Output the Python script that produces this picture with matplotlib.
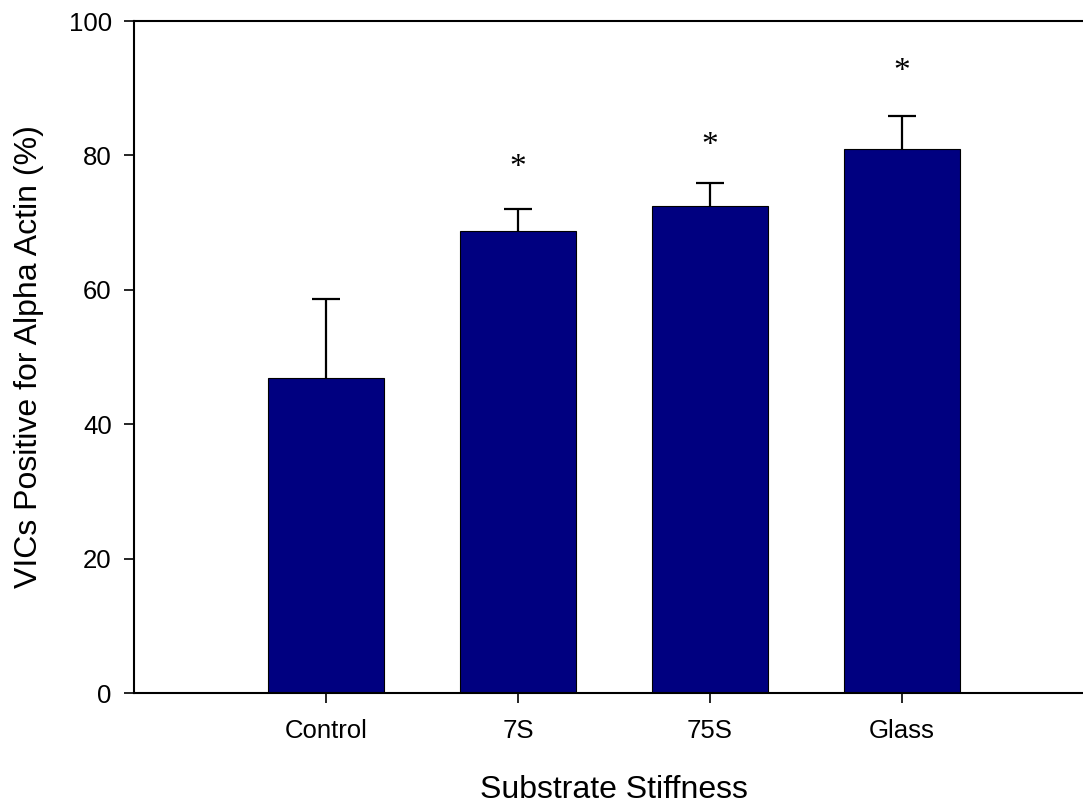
import matplotlib.pyplot as plt
import numpy as np

plt.rcParams['font.family'] = ['Liberation Sans', 'DejaVu Sans']

categories = ['Control', '7S', '75S', 'Glass']
means = [46.9, 68.7, 72.5, 81.0]
errors = [11.8, 3.3, 3.4, 4.9]
star_y = [None, 78.1, 81.5, 92.4]

fig = plt.figure(figsize=(10.83, 8.05), dpi=100)
ax = fig.add_axes([134 / 1083, 112 / 805, 960 / 1083, 672 / 805])

x = np.arange(len(categories))
ax.bar(x, means, width=0.6, color='#000080', edgecolor='black', linewidth=0.8, zorder=2)
eb = ax.errorbar(x, means, yerr=[np.zeros(len(errors)), errors], fmt='none',
                 ecolor='black', elinewidth=1.6, capsize=10, capthick=1.6, zorder=1)
# hide the lower cap (sits on the bar top)
eb[1][0].set_visible(False)

for xi, sy in zip(x, star_y):
    if sy is not None:
        ax.text(xi, sy, '*', ha='center', va='center', fontsize=24,
                family=['Liberation Serif', 'DejaVu Serif'])

ax.set_xlim(-1, 4)
ax.set_ylim(0, 100)
ax.set_xticks(x)
ax.set_xticklabels(categories)
ax.set_yticks([0, 20, 40, 60, 80, 100])
ax.tick_params(axis='both', direction='out', length=7, width=1.2, labelsize=18.5)
ax.tick_params(axis='y', pad=9)
ax.tick_params(axis='x', pad=12)
ax.spines['right'].set_visible(False)
for s in ['left', 'bottom', 'top']:
    ax.spines[s].set_linewidth(1.5)

ax.set_xlabel('Substrate Stiffness', fontsize=23, labelpad=23)
ax.set_ylabel('VICs Positive for Alpha Actin (%)', fontsize=23, labelpad=18)

fig.savefig('out.png', dpi=100)
